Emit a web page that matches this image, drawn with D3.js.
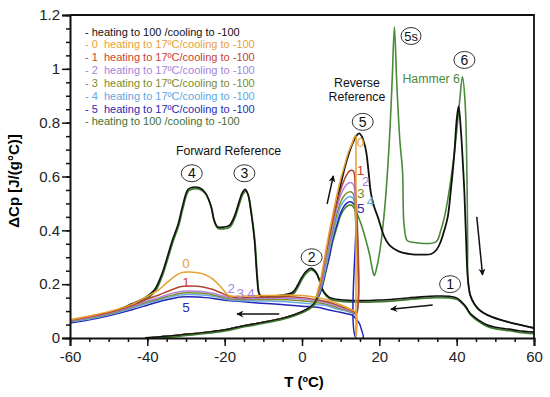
<!DOCTYPE html>
<html>
<head>
<meta charset="utf-8">
<script src="https://cdn.jsdelivr.net/npm/d3@7"></script>
<style>
body { margin: 0; background: #fff; }
svg { font-family: "Liberation Sans", Arial, sans-serif; }
.axis path, .axis line { stroke: #111; }
.axis text { font-size: 15px; fill: #222; }
</style>
</head>
<body>
<div id="chart"></div>
<script>
// tick labels
var xTickLabels = [-60, -40, -20, 0, 20, 40, 60];
var yTickLabels = [0, 0.2, 0.4, 0.6, 0.8, 1, 1.2];

// [T, dCp]
// heating start, common to every run
var heatBase = [[-40.5,0],[-35,0.006],[-30,0.013],[-25,0.02],[-20,0.03],[-15,0.045],[-10,0.058],[-5,0.073],[-2,0.086],[0,0.097],[2,0.113],[3,0.125]];

// full reference heating (black) and Hammer run (green)
var blackPeak = [[4,0.16],[5,0.21],[6,0.28],[7,0.36],[8,0.43],[9,0.5],[10,0.57],[11,0.63],[12,0.68],[13,0.72],[14,0.75],[14.8,0.76],[15.5,0.748],[16.5,0.70],[17.2,0.62],[17.8,0.54],[18.6,0.49],[19.6,0.45],[21.3,0.376],[22.6,0.345],[25,0.322],[28,0.312],[31,0.31],[33.4,0.312],[34.8,0.328],[35.8,0.355],[36.8,0.40],[37.7,0.45],[38.5,0.55],[39.4,0.686],[40,0.81],[40.5,0.86],[41.1,0.77],[41.6,0.65],[42,0.54],[42.4,0.38]];
var greenPeak = [[4,0.145],[5,0.18],[6,0.235],[7,0.295],[8,0.36],[9,0.41],[10,0.455],[11,0.48],[12,0.493],[12.7,0.494],[13.6,0.48],[15.2,0.426],[16.4,0.37],[17.4,0.315],[18.2,0.255],[18.7,0.232],[19.3,0.26],[20.2,0.33],[21.5,0.5],[22.6,0.735],[23.3,0.95],[23.9,1.155],[24.5,0.95],[25.3,0.735],[26,0.62],[26.4,0.42],[27.2,0.362],[28.5,0.356],[34.6,0.357],[35.9,0.40],[37,0.46],[38.1,0.55],[39.5,0.70],[40.7,0.87],[41.5,0.97],[42.2,0.87],[42.7,0.56],[42.85,0.35]];
var heatTail = [[42.9,0.22],[43.5,0.16],[44.5,0.128],[45.8,0.105],[48,0.085],[51,0.069],[55,0.053],[60,0.037]];

// reference cooling from 60 down to -60
var refCool = [[60,0.022],[56,0.027],[53.6,0.033],[50,0.04],[47.6,0.05],[45.5,0.068],[44,0.085],[43.3,0.095],[42.3,0.118],[41,0.138],[40,0.149],[38,0.155],[34.7,0.156],[30,0.152],[25,0.146],[20,0.141],[15,0.139],[10,0.142],[7,0.152],[5.5,0.175],[4.5,0.215],[3.6,0.245],[2.3,0.259],[1,0.247],[-0.2,0.222],[-1.1,0.197],[-2.4,0.17],[-5,0.16],[-8,0.155],[-10.2,0.152],[-11.1,0.165],[-11.6,0.22],[-12.3,0.364],[-13.2,0.47],[-14,0.535],[-14.7,0.552],[-15.5,0.538],[-16.2,0.51],[-17.5,0.452],[-18.8,0.418],[-20.3,0.412],[-21.9,0.414],[-22.8,0.44],[-23.5,0.488],[-25,0.54],[-26.5,0.558],[-28.3,0.56],[-29.5,0.552],[-30.9,0.49],[-32,0.425],[-33.5,0.364],[-35.6,0.265],[-36.5,0.228],[-38.2,0.178],[-40.8,0.148],[-44,0.127],[-48.5,0.1],[-55,0.08],[-60,0.066]];

// partial runs 0..5 : heating to 17 C
var peak0 = [[4,0.17],[5,0.23],[6,0.31],[7,0.39],[8,0.46],[9,0.53],[10,0.59],[11,0.64],[12,0.69],[13,0.725],[13.6,0.748],[13.9,0.752],[13.95,0.7],[13.95,0]];
var peak1 = [[4,0.165],[5,0.22],[6,0.3],[7,0.37],[8,0.44],[9,0.5],[10,0.55],[11,0.59],[11.8,0.612],[12.5,0.622],[13.3,0.62],[13.7,0.58]];
var peak2 = [[4,0.16],[5,0.21],[6,0.28],[7,0.35],[8,0.42],[9,0.48],[10,0.53],[11,0.56],[12,0.575],[12.6,0.578],[13.3,0.57],[13.7,0.53]];
var peak3 = [[4,0.155],[5,0.2],[6,0.27],[7,0.34],[8,0.4],[9,0.46],[10,0.505],[11,0.53],[12,0.542],[12.6,0.543],[13.3,0.535],[13.6,0.5]];
var peak4 = [[4,0.15],[5,0.19],[6,0.25],[7,0.32],[8,0.385],[9,0.44],[10,0.49],[11,0.512],[12,0.524],[12.6,0.525],[13.4,0.515],[13.8,0.48]];
var peak5 = [[4,0.145],[5,0.18],[6,0.24],[7,0.3],[8,0.37],[9,0.42],[10,0.465],[11,0.492],[12,0.505],[12.6,0.506],[13.5,0.495],[13.95,0.46],[14,0],[15.8,0],[15.4,0.03],[14.8,0.055]];

// cooling of the partial runs
var coolT = [14, 13, 11, 9, 6.5, 4, 0, -4, -8, -13, -17, -19, -21, -23, -25, -27, -29.5, -31.5, -33, -35, -37, -40, -44, -50, -55, -60];
var cool0 = [0.095, 0.104, 0.117, 0.129, 0.142, 0.150, 0.158, 0.160, 0.158, 0.157, 0.155, 0.158, 0.19, 0.218, 0.235, 0.242, 0.245, 0.241, 0.228, 0.205, 0.180, 0.155, 0.125, 0.098, 0.082, 0.068];
var cool1 = [0.092, 0.1, 0.112, 0.123, 0.135, 0.142, 0.150, 0.153, 0.152, 0.151, 0.150, 0.155, 0.168, 0.18, 0.188, 0.192, 0.193, 0.19, 0.183, 0.172, 0.16, 0.145, 0.121, 0.095, 0.079, 0.066];
var cool2 = [0.09, 0.097, 0.108, 0.118, 0.13, 0.137, 0.145, 0.148, 0.148, 0.147, 0.147, 0.150, 0.158, 0.166, 0.171, 0.174, 0.175, 0.173, 0.168, 0.16, 0.15, 0.138, 0.117, 0.092, 0.076, 0.064];
var cool3 = [0.088, 0.095, 0.105, 0.113, 0.125, 0.131, 0.138, 0.142, 0.143, 0.143, 0.143, 0.146, 0.153, 0.16, 0.165, 0.167, 0.168, 0.166, 0.161, 0.154, 0.145, 0.134, 0.114, 0.089, 0.074, 0.062];
var cool4 = [0.086, 0.092, 0.102, 0.108, 0.12, 0.124, 0.13, 0.135, 0.137, 0.138, 0.139, 0.142, 0.149, 0.155, 0.159, 0.161, 0.162, 0.16, 0.156, 0.149, 0.14, 0.129, 0.11, 0.086, 0.071, 0.06];
var cool5 = [0.07, 0.085, 0.092, 0.098, 0.106, 0.114, 0.118, 0.123, 0.127, 0.132, 0.137, 0.139, 0.143, 0.147, 0.15, 0.152, 0.153, 0.152, 0.148, 0.142, 0.135, 0.122, 0.105, 0.083, 0.068, 0.056];

var legendLabels = ["- heating to 100 /cooling to -100",
    "- 0  heating to 17ºC/cooling to -100",
    "- 1  heating to 17ºC/cooling to -100",
    "- 2  heating to 17ºC/cooling to -100",
    "- 3  heating to 17ºC/cooling to -100",
    "- 4  heating to 17ºC/cooling to -100",
    "- 5  heating to 17ºC/cooling to -100",
    "- heating to 100 /cooling to -100"];
var legendColors = ["#111", "#e8a038", "#c84330", "#a683dc", "#7c8a2c", "#62a6e6", "#2a2ab2", "#3f7233"];

var width = 550, height = 397;
var x = d3.scaleLinear().domain([-60, 60]).range([70, 534]);
var y = d3.scaleLinear().domain([0, 1.2]).range([338, 15]);

var svg = d3.select("#chart").append("svg")
    .attr("width", width)
    .attr("height", height);

svg.append("defs").append("clipPath").attr("id", "plotClip")
  .append("rect")
    .attr("x", x(-60)).attr("y", y(1.2))
    .attr("width", x(60) - x(-60)).attr("height", y(0) - y(1.2) + 1);

svg.select("defs").append("marker")
    .attr("id", "arrow")
    .attr("viewBox", "0 0 10 10")
    .attr("refX", 9).attr("refY", 5)
    .attr("markerWidth", 9).attr("markerHeight", 7)
    .attr("markerUnits", "userSpaceOnUse")
    .attr("orient", "auto")
  .append("path")
    .attr("d", "M0,0 L10,5 L0,10 L3,5 Z")
    .attr("fill", "#111");

var line = d3.line()
    .x(d => x(d[0]))
    .y(d => y(d[1]))
    .curve(d3.curveCatmullRom.alpha(0.5));

function pairs(ts, vs) {
    return ts.map((t, i) => [t, vs[i]]);
}

var plot = svg.append("g").attr("clip-path", "url(#plotClip)");

// reference runs
var refHeat = heatBase.concat(blackPeak, heatTail);
var hamHeat = heatBase.concat(greenPeak, heatTail);

plot.append("path").attr("d", line(refCool))
    .attr("transform", "translate(0.5,1.6)")
    .attr("fill", "none").attr("stroke", "#3f7a30").attr("stroke-width", 1.8);
plot.append("path").attr("d", line(hamHeat))
    .attr("fill", "none").attr("stroke", "#4a8a38").attr("stroke-width", 1.6);
plot.append("path").attr("d", line(refHeat))
    .attr("fill", "none").attr("stroke", "#111").attr("stroke-width", 1.8);
plot.append("path").attr("d", line(refCool))
    .attr("fill", "none").attr("stroke", "#111").attr("stroke-width", 1.6);

// partial runs, drawn 5 first so 0 ends on top
var partials = [
    {peak: peak0, cool: cool0, color: "#e6a030"},
    {peak: peak1, cool: cool1, color: "#b2452c"},
    {peak: peak2, cool: cool2, color: "#b184e2"},
    {peak: peak3, cool: cool3, color: "#7f8f28"},
    {peak: peak4, cool: cool4, color: "#6aaae8"},
    {peak: peak5, cool: cool5, color: "#2323b8"}
];
partials.slice().reverse().forEach(p => {
    var pts = heatBase.concat(p.peak, pairs(coolT, p.cool));
    plot.append("path").attr("d", line(pts))
        .attr("fill", "none")
        .attr("stroke", p.color)
        .attr("stroke-width", 1.5);
});

// reference low heating part stays on top of the partial runs
plot.append("path").attr("d", line(heatBase.concat([[4,0.15]])))
    .attr("fill", "none").attr("stroke", "#111").attr("stroke-width", 1.8);
plot.append("path").attr("d", line(heatBase.concat([[4,0.15]])))
    .attr("transform", "translate(0.4,1)")
    .attr("fill", "none").attr("stroke", "#3f7a30").attr("stroke-width", 1.5);

// axes
svg.append("g").attr("class", "axis")
    .attr("transform", "translate(0," + y(0) + ")")
    .call(d3.axisBottom(x).tickValues(xTickLabels).tickSize(8).tickPadding(5).tickFormat(d => d));
svg.append("g").attr("class", "axis")
    .attr("transform", "translate(0," + y(0) + ")")
    .call(d3.axisBottom(x).tickValues(d3.range(-60, 61, 5)).tickSize(4).tickFormat(""))
    .select(".domain").remove();

svg.append("g").attr("class", "axis")
    .attr("transform", "translate(" + x(-60) + ",0)")
    .call(d3.axisLeft(y).tickValues(yTickLabels).tickSize(8).tickPadding(2).tickFormat(d => d));
svg.append("g").attr("class", "axis")
    .attr("transform", "translate(" + x(-60) + ",0)")
    .call(d3.axisLeft(y).tickValues(d3.range(0, 1.2001, 0.05)).tickSize(4).tickFormat(""))
    .select(".domain").remove();

svg.selectAll(".axis .domain").attr("stroke-width", 2);
svg.selectAll(".axis .tick line").attr("stroke-width", 1.5);

// top and right frame
svg.append("path")
    .attr("d", "M" + x(-60) + "," + y(1.2) + "H" + x(60) + "V" + y(0))
    .attr("fill", "none").attr("stroke", "#111").attr("stroke-width", 1.8);

svg.append("text")
    .attr("x", (x(-60) + x(60)) / 2 + 2).attr("y", 387)
    .attr("text-anchor", "middle")
    .attr("font-size", 15).attr("font-weight", "bold")
    .text("T (ºC)");
svg.append("text")
    .attr("transform", "translate(19," + 181 + ") rotate(-90)")
    .attr("text-anchor", "middle")
    .attr("font-size", 15).attr("font-weight", "bold")
    .text("ΔCp [J/(g°C)]");

// legend
legendLabels.forEach((t, i) => {
    svg.append("text")
        .attr("x", 85).attr("y", 35.5 + i * 12.85)
        .attr("font-size", 11)
        .attr("fill", legendColors[i])
        .style("white-space", "pre")
        .text(t);
});

// annotations
var circled = [
    {t: -28.5, v: 0.612, s: "4"},
    {t: -14.9, v: 0.612, s: "3"},
    {t: 2.5, v: 0.30, s: "2"},
    {t: 15.7, v: 0.803, s: "5"},
    {t: 28.2, v: 1.122, s: "5s"},
    {t: 42.0, v: 1.033, s: "6"},
    {t: 38.3, v: 0.20, s: "1"}
];
circled.forEach(c => {
    var g = svg.append("g").attr("transform", "translate(" + x(c.t) + "," + y(c.v) + ")");
    g.append("ellipse").attr("rx", c.s.length > 1 ? 10 : 10.5).attr("ry", 8.5)
        .attr("fill", "#fff").attr("stroke", "#333").attr("stroke-width", 1);
    g.append("text").attr("text-anchor", "middle").attr("dy", "0.36em")
        .attr("font-size", c.s.length > 1 ? 13 : 14).attr("fill", "#111").text(c.s);
});

var notes = [
    {t: -19.0, v: 0.695, s: "Forward Reference", c: "#111"},
    {t: 14.2, v: 0.948, s: "Reverse", c: "#111"},
    {t: 14.2, v: 0.895, s: "Reference", c: "#111"},
    {t: 33.4, v: 0.962, s: "Hammer 6", c: "#4a8a38"}
];
notes.forEach(n => {
    svg.append("text").attr("x", x(n.t)).attr("y", y(n.v))
        .attr("dy", "0.35em").attr("text-anchor", "middle")
        .attr("font-size", 12.3).attr("fill", n.c).text(n.s);
});

var numLabels = [
    {t: 15.1, v: 0.729, s: "0", c: 0}, {t: 15.1, v: 0.622, s: "1", c: 1},
    {t: 16.5, v: 0.581, s: "2", c: 2}, {t: 15.2, v: 0.540, s: "3", c: 3},
    {t: 17.7, v: 0.510, s: "4", c: 4}, {t: 15.2, v: 0.482, s: "5", c: 5},
    {t: -30.0, v: 0.277, s: "0", c: 0}, {t: -30.0, v: 0.208, s: "1", c: 1},
    {t: -30.0, v: 0.115, s: "5", c: 5}, {t: -18.3, v: 0.185, s: "2", c: 2},
    {t: -16.0, v: 0.166, s: "3", c: 2}, {t: -13.2, v: 0.166, s: "4", c: 2}
];
numLabels.forEach(n => {
    svg.append("text").attr("x", x(n.t)).attr("y", y(n.v))
        .attr("dy", "0.36em").attr("text-anchor", "middle")
        .attr("font-size", 13.5).attr("fill", legendColors[n.c + 1]).text(n.s);
});

var arrows = [
    [[6.5, 0.498], [8.1, 0.602]],
    [[-5.9, 0.089], [-16.8, 0.089]],
    [[33.8, 0.123], [23.0, 0.107]],
    [[45.2, 0.45], [46.7, 0.234]]
];
arrows.forEach(a => {
    svg.append("line")
        .attr("x1", x(a[0][0])).attr("y1", y(a[0][1]))
        .attr("x2", x(a[1][0])).attr("y2", y(a[1][1]))
        .attr("stroke", "#111").attr("stroke-width", 1.5)
        .attr("marker-end", "url(#arrow)");
});
</script>
</body>
</html>
